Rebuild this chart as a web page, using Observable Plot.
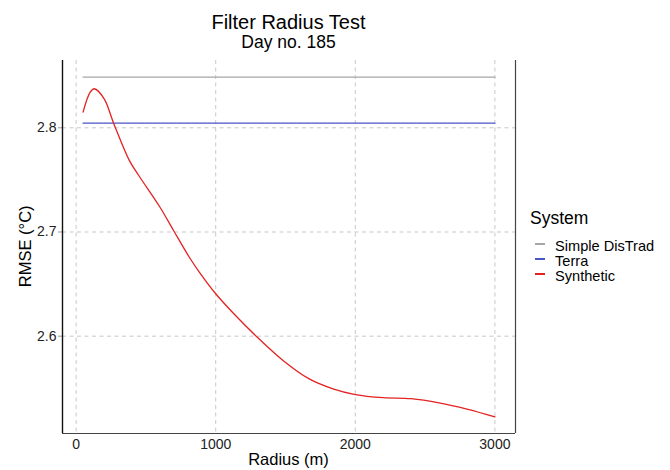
<!DOCTYPE html>
<html>
<head>
<meta charset="utf-8">
<script src="https://cdn.jsdelivr.net/npm/d3@7"></script>
<script src="https://cdn.jsdelivr.net/npm/@observablehq/plot@0.6"></script>
<style>
  html, body { margin: 0; padding: 0; background: #fff; }
  #wrap { position: relative; width: 670px; height: 470px; font-family: "Liberation Sans", Arial, sans-serif; color: #000; overflow: hidden; }
  .abs { position: absolute; white-space: nowrap; line-height: 1; }
</style>
</head>
<body>
<div id="wrap"></div>
<script>
// ---- data ----
const radii = [50, 100, 130, 200, 270, 380, 450, 600, 700, 810, 885, 1000, 1130, 1290, 1480, 1670, 1840, 2000, 2200, 2400, 2600, 2800, 3000];
const synthetic = [2.815, 2.834, 2.8375, 2.828, 2.804, 2.769, 2.754, 2.724, 2.701, 2.676, 2.661, 2.6407, 2.6215, 2.600, 2.577, 2.559, 2.5495, 2.544, 2.541, 2.540, 2.536, 2.530, 2.5225];
const simpleDisTrad = 2.8486;
const terra = 2.8044;
const systems = ["Simple DisTrad", "Terra", "Synthetic"];
const colors = ["#a6a6a6", "#4a55c8", "#e32222"];
const xTicks = [0, 1000, 2000, 3000];
const yTicks = [2.6, 2.7, 2.8];
const title = "Filter Radius Test";
const subtitle = "Day no. 185";
const xLabel = "Radius (m)";
const yLabel = "RMSE (°C)";
const legendTitle = "System";

// ---- table ----
const rows = [];
radii.forEach((r, i) => {
  rows.push({radius: r, rmse: simpleDisTrad, system: systems[0]});
  rows.push({radius: r, rmse: terra, system: systems[1]});
  rows.push({radius: r, rmse: synthetic[i], system: systems[2]});
});

const xExt = [d3.min(radii), d3.max(radii)];
const xPad = (xExt[1] - xExt[0]) * 0.05;
const xDomain = [xExt[0] - xPad, xExt[1] + xPad];
const yDomain = [2.5066, 2.8646];

const chart = Plot.plot({
  width: 670,
  height: 470,
  marginLeft: 62,
  marginRight: 155,
  marginTop: 60,
  marginBottom: 37,
  style: {fontFamily: "'Liberation Sans', Arial, sans-serif", fontSize: "14px", color: "#000", background: "#fff"},
  x: {domain: xDomain, label: null},
  y: {domain: yDomain, label: null},
  color: {domain: systems, range: colors},
  marks: [
    Plot.gridX(xTicks, {stroke: "#c8c8c8", strokeOpacity: 1, strokeDasharray: "4,3.5", strokeWidth: 1}),
    Plot.gridY(yTicks, {stroke: "#c8c8c8", strokeOpacity: 1, strokeDasharray: "4,3.5", strokeWidth: 1}),
    Plot.axisX(xTicks, {tickSize: 0, tickPadding: 6, fill: "#222", fontSize: 14, tickFormat: d => String(d)}),
    Plot.axisY(yTicks, {tickSize: 4, tickPadding: 2, stroke: "#999", fill: "#222", fontSize: 14, tickFormat: d3.format(".1f")}),
    Plot.line(rows, {x: "radius", y: "rmse", z: "system", stroke: "system", strokeWidth: 1.3, curve: "catmull-rom"}),
    Plot.ruleX([xDomain[0]], {stroke: "#111", strokeWidth: 1.4}),
    Plot.ruleX([xDomain[1]], {stroke: "#444", strokeWidth: 1.2}),
    Plot.ruleY([yDomain[0]], {stroke: "#444", strokeWidth: 1.2})
  ]
});

const wrap = document.getElementById("wrap");
chart.style.position = "absolute";
chart.style.left = "0";
chart.style.top = "0";
wrap.appendChild(chart);

function addText(txt, css) {
  const d = document.createElement("div");
  d.className = "abs";
  d.textContent = txt;
  Object.assign(d.style, css);
  wrap.appendChild(d);
  return d;
}
const cx = 288.5;
addText(title, {left: (cx - 150) + "px", width: "300px", textAlign: "center", top: "12px", fontSize: "20px"});
addText(subtitle, {left: (cx - 150) + "px", width: "300px", textAlign: "center", top: "34px", fontSize: "17.5px"});
addText(xLabel, {left: (cx - 100) + "px", width: "200px", textAlign: "center", top: "451px", fontSize: "16.5px"});
addText(yLabel, {left: "-75px", width: "200px", textAlign: "center", top: "238px", fontSize: "16.5px", transform: "rotate(-90deg)"});

// legend
addText(legendTitle, {left: "530px", top: "210px", fontSize: "17.5px"});
const rowY = [244, 259, 274];
systems.forEach((s, i) => {
  const key = document.createElement("div");
  Object.assign(key.style, {position: "absolute", left: "535px", top: (rowY[i] - 0.6) + "px", width: "10px", height: "1.3px", background: colors[i]});
  wrap.appendChild(key);
  addText(s, {left: "555px", top: (rowY[i] - 5.3) + "px", fontSize: "14.6px", lineHeight: "14.6px"});
});
</script>
</body>
</html>
